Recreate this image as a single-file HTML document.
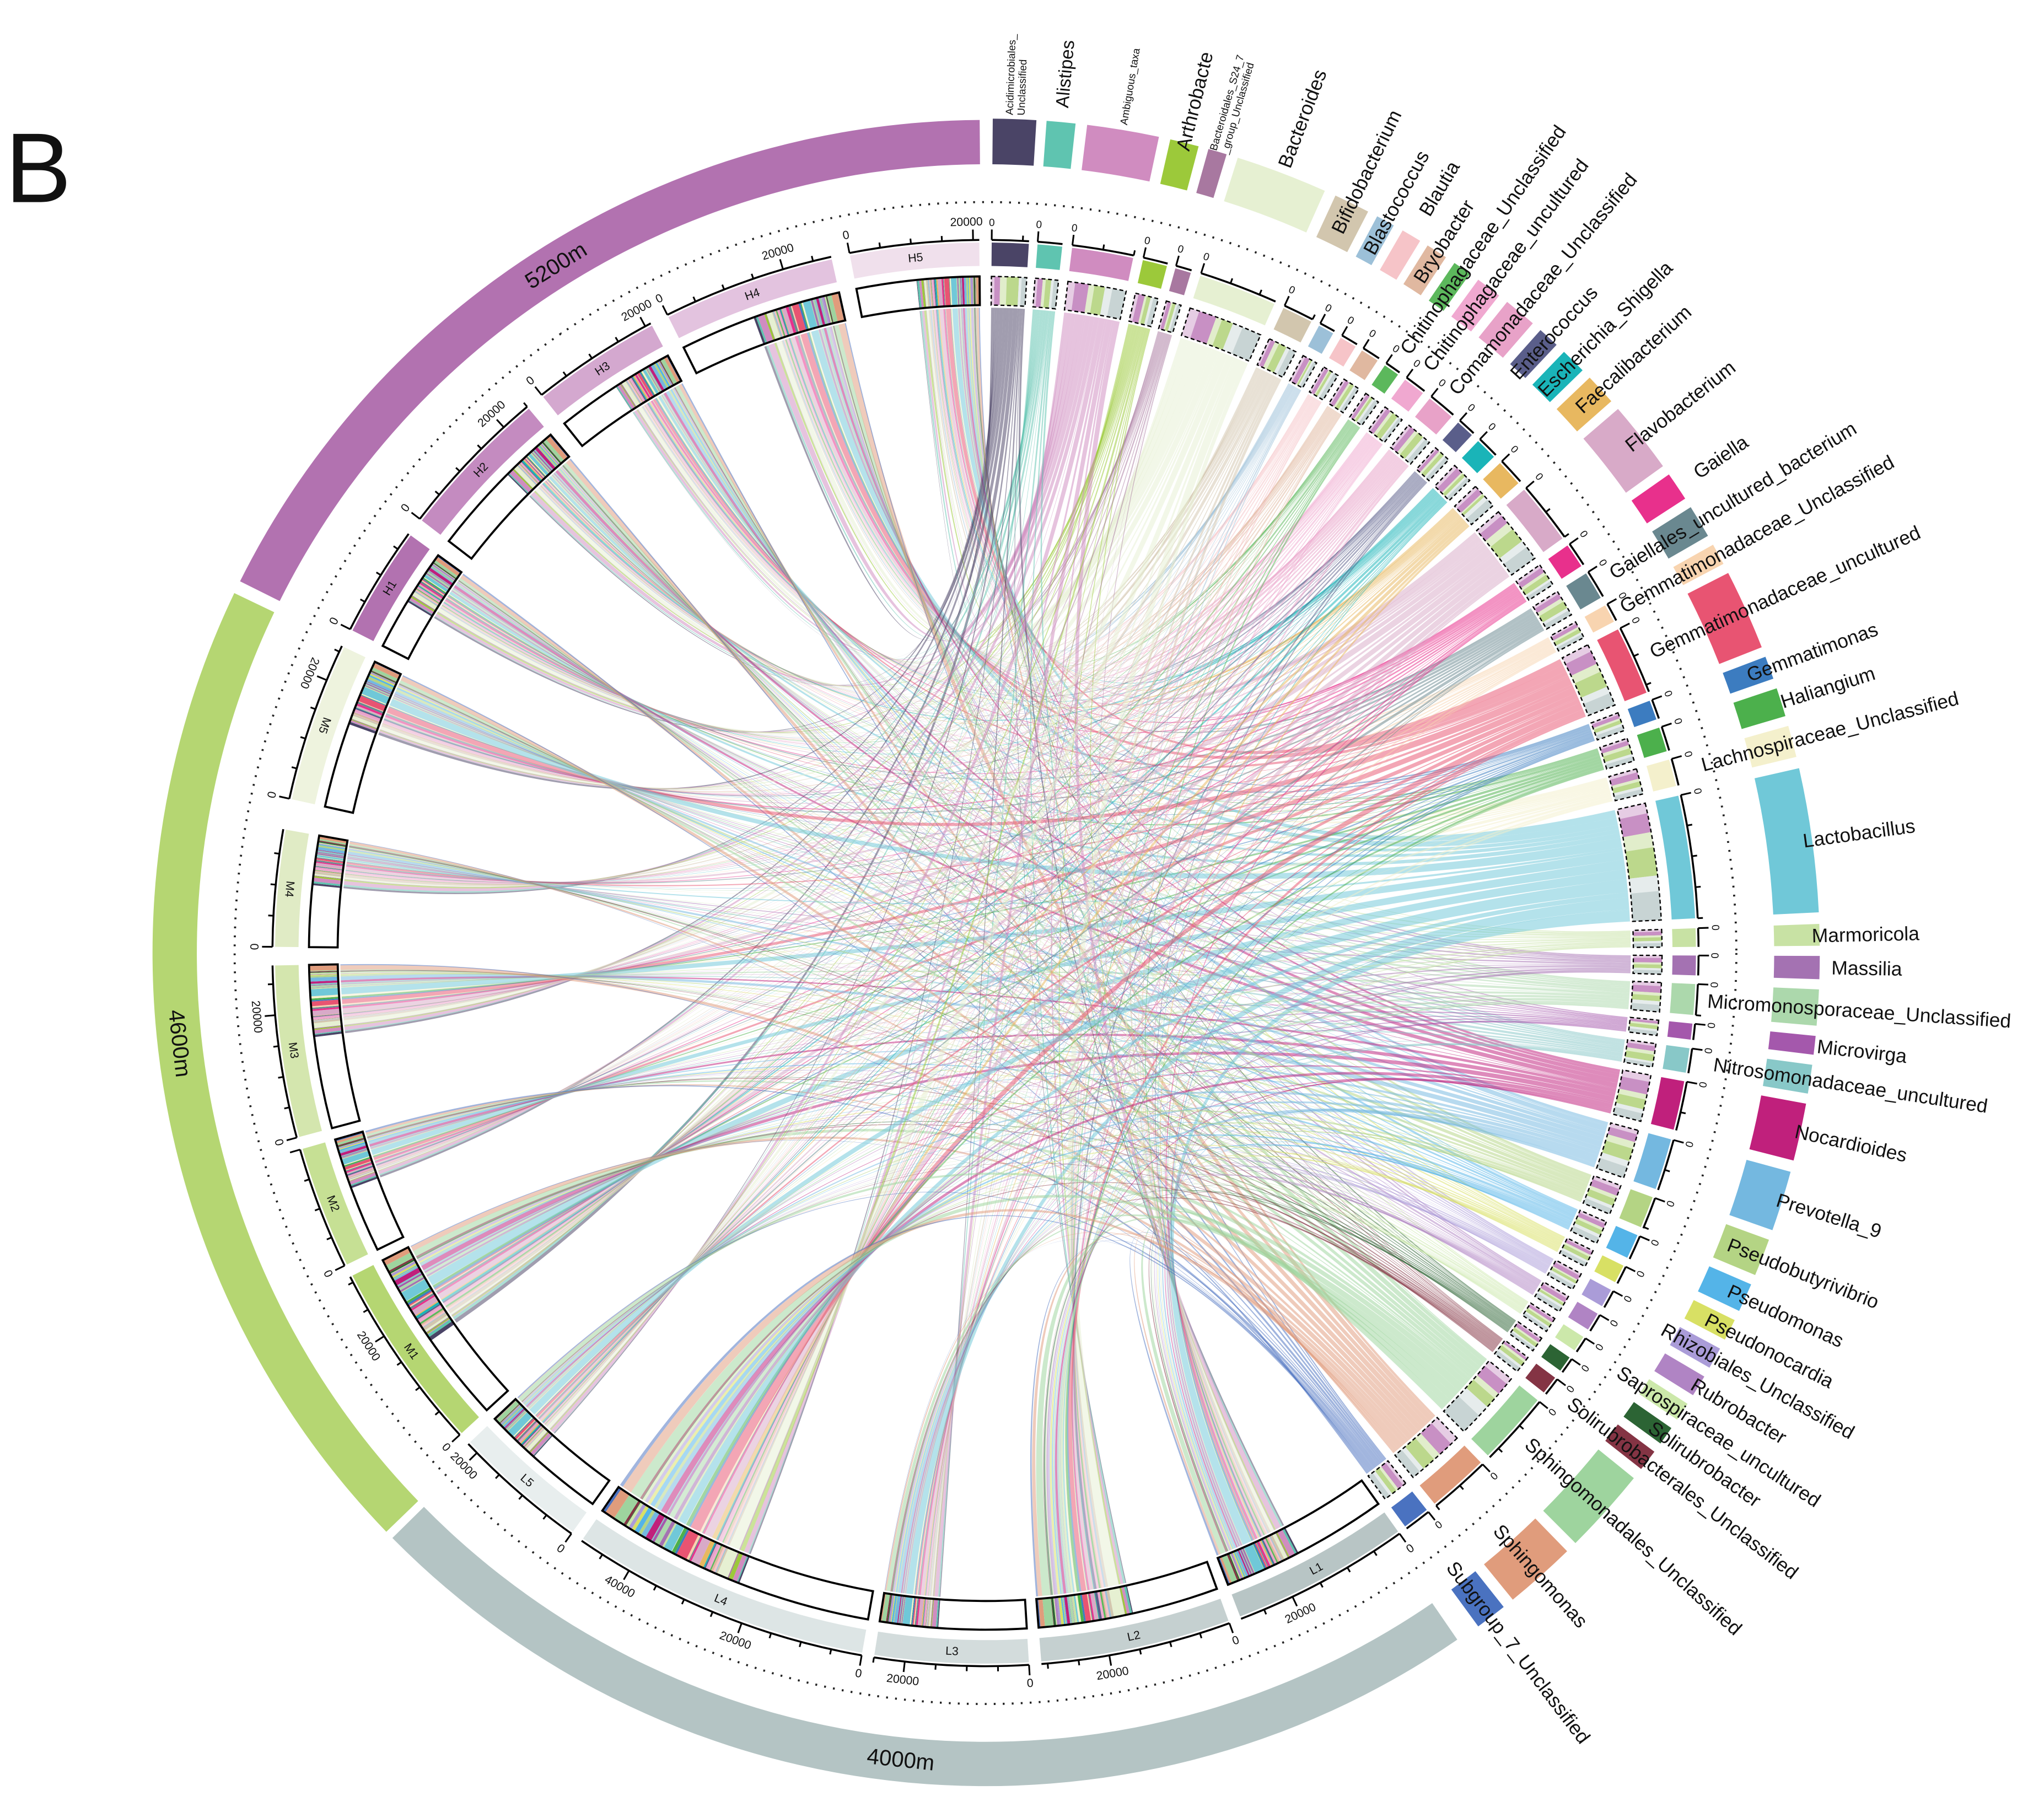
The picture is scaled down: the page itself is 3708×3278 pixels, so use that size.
<!DOCTYPE html>
<html><head><meta charset="utf-8"><style>
html,body{margin:0;padding:0;background:#fff}
svg{display:block}
text{font-family:"Liberation Sans",Arial,sans-serif;fill:#111}
.gl{font-size:15px;dominant-baseline:central}
.sm{font-size:8px;dominant-baseline:central}
.sl{font-size:9px;text-anchor:middle;dominant-baseline:central}
.tk{font-size:9px;text-anchor:middle;dominant-baseline:central}
.z{font-size:8px;text-anchor:middle;dominant-baseline:central}
.grp{font-size:17px;text-anchor:middle;dominant-baseline:central}
</style></head><body>
<svg xmlns="http://www.w3.org/2000/svg" width="3708" height="3278" viewBox="0 0 1568 1386" preserveAspectRatio="none">
<rect width="1568" height="1386" fill="#fff"/>
<g id="chords"></g>
<g id="geo"></g>
<text x="4" y="155" style="font-size:76px">B</text>
<g id="labels">
<text class="grp" transform="translate(756 731) rotate(328) translate(0 -622)">5200m</text>
<text class="grp" transform="translate(756 731) rotate(263.6) translate(0 -622) rotate(180)">4600m</text>
<text class="grp" transform="translate(756 731) rotate(186) translate(0 -622) rotate(180)">4000m</text>

<text class="sl" transform="translate(756 731) rotate(301.5) translate(0 -536)">H1</text>
<text class="sl" transform="translate(756 731) rotate(313.75) translate(0 -536)">H2</text>
<text class="sl" transform="translate(756 731) rotate(326.75) translate(0 -536)">H3</text>
<text class="sl" transform="translate(756 731) rotate(340.5) translate(0 -536)">H4</text>
<text class="sl" transform="translate(756 731) rotate(354.25) translate(0 -536)">H5</text>
<text class="sl" transform="translate(756 731) rotate(289) translate(0 -536) rotate(180)">M5</text>
<text class="sl" transform="translate(756 731) rotate(275.25) translate(0 -536) rotate(180)">M4</text>
<text class="sl" transform="translate(756 731) rotate(262) translate(0 -536) rotate(180)">M3</text>
<text class="sl" transform="translate(756 731) rotate(249) translate(0 -536) rotate(180)">M2</text>
<text class="sl" transform="translate(756 731) rotate(235.25) translate(0 -536) rotate(180)">M1</text>
<text class="sl" transform="translate(756 731) rotate(221) translate(0 -536) rotate(180)">L5</text>
<text class="sl" transform="translate(756 731) rotate(202.25) translate(0 -536) rotate(180)">L4</text>
<text class="sl" transform="translate(756 731) rotate(182.75) translate(0 -536) rotate(180)">L3</text>
<text class="sl" transform="translate(756 731) rotate(167.75) translate(0 -536) rotate(180)">L2</text>
<text class="sl" transform="translate(756 731) rotate(151.75) translate(0 -536) rotate(180)">L1</text>

<text class="tk" transform="translate(756 731) rotate(297) translate(0 -561)">0</text>
<text class="tk" transform="translate(756 731) rotate(307.5) translate(0 -561)">0</text>
<text class="tk" transform="translate(756 731) rotate(317.5) translate(0 -561)">20000</text>
<text class="tk" transform="translate(756 731) rotate(321.5) translate(0 -561)">0</text>
<text class="tk" transform="translate(756 731) rotate(331.5) translate(0 -561)">20000</text>
<text class="tk" transform="translate(756 731) rotate(333.5) translate(0 -561)">0</text>
<text class="tk" transform="translate(756 731) rotate(343.5) translate(0 -561)">20000</text>
<text class="tk" transform="translate(756 731) rotate(349) translate(0 -561)">0</text>
<text class="tk" transform="translate(756 731) rotate(358.5) translate(0 -561)">20000</text>
<text class="tk" transform="translate(756 731) rotate(282.5) translate(0 -561) rotate(180)">0</text>
<text class="tk" transform="translate(756 731) rotate(292.5) translate(0 -561) rotate(180)">20000</text>
<text class="tk" transform="translate(756 731) rotate(270.5) translate(0 -561) rotate(180)">0</text>
<text class="tk" transform="translate(756 731) rotate(255) translate(0 -561) rotate(180)">0</text>
<text class="tk" transform="translate(756 731) rotate(265) translate(0 -561) rotate(180)">20000</text>
<text class="tk" transform="translate(756 731) rotate(244) translate(0 -561) rotate(180)">0</text>
<text class="tk" transform="translate(756 731) rotate(227.5) translate(0 -561) rotate(180)">0</text>
<text class="tk" transform="translate(756 731) rotate(237.5) translate(0 -561) rotate(180)">20000</text>
<text class="tk" transform="translate(756 731) rotate(215.5) translate(0 -561) rotate(180)">0</text>
<text class="tk" transform="translate(756 731) rotate(225.5) translate(0 -561) rotate(180)">20000</text>
<text class="tk" transform="translate(756 731) rotate(190) translate(0 -561) rotate(180)">0</text>
<text class="tk" transform="translate(756 731) rotate(200) translate(0 -561) rotate(180)">20000</text>
<text class="tk" transform="translate(756 731) rotate(210) translate(0 -561) rotate(180)">40000</text>
<text class="tk" transform="translate(756 731) rotate(176.5) translate(0 -561) rotate(180)">0</text>
<text class="tk" transform="translate(756 731) rotate(186.5) translate(0 -561) rotate(180)">20000</text>
<text class="tk" transform="translate(756 731) rotate(160) translate(0 -561) rotate(180)">0</text>
<text class="tk" transform="translate(756 731) rotate(170) translate(0 -561) rotate(180)">20000</text>
<text class="tk" transform="translate(756 731) rotate(144.5) translate(0 -561) rotate(180)">0</text>
<text class="tk" transform="translate(756 731) rotate(154.5) translate(0 -561) rotate(180)">20000</text>

<text class="z" transform="translate(756 731) rotate(0.5) translate(0 -560)">0</text>
<text class="z" transform="translate(756 731) rotate(4.2) translate(0 -560)">0</text>
<text class="z" transform="translate(756 731) rotate(7) translate(0 -560)">0</text>
<text class="z" transform="translate(756 731) rotate(12.8) translate(0 -560)">0</text>
<text class="z" transform="translate(756 731) rotate(15.5) translate(0 -560)">0</text>
<text class="z" transform="translate(756 731) rotate(17.6) translate(0 -560)">0</text>
<text class="z" transform="translate(756 731) rotate(24.8) translate(0 -560)">0</text>
<text class="z" transform="translate(756 731) rotate(28) translate(0 -560)">0</text>
<text class="z" transform="translate(756 731) rotate(30) translate(0 -560)">0</text>
<text class="z" transform="translate(756 731) rotate(32) translate(0 -560)">0</text>
<text class="z" transform="translate(756 731) rotate(34.2) translate(0 -560)">0</text>
<text class="z" transform="translate(756 731) rotate(36.2) translate(0 -560)">0</text>
<text class="z" transform="translate(756 731) rotate(38.7) translate(0 -560)">0</text>
<text class="z" transform="translate(756 731) rotate(41.7) translate(0 -560)">0</text>
<text class="z" transform="translate(756 731) rotate(43.9) translate(0 -560)">0</text>
<text class="z" transform="translate(756 731) rotate(46.4) translate(0 -560)">0</text>
<text class="z" transform="translate(756 731) rotate(49.3) translate(0 -560)">0</text>
<text class="z" transform="translate(756 731) rotate(55) translate(0 -560)">0</text>
<text class="z" transform="translate(756 731) rotate(57.7) translate(0 -560)">0</text>
<text class="z" transform="translate(756 731) rotate(60.7) translate(0 -560)">0</text>
<text class="z" transform="translate(756 731) rotate(62.9) translate(0 -560)">0</text>
<text class="z" transform="translate(756 731) rotate(69.2) translate(0 -560)">0</text>
<text class="z" transform="translate(756 731) rotate(71.5) translate(0 -560)">0</text>
<text class="z" transform="translate(756 731) rotate(74.2) translate(0 -560)">0</text>
<text class="z" transform="translate(756 731) rotate(77.2) translate(0 -560)">0</text>
<text class="z" transform="translate(756 731) rotate(88) translate(0 -560)">0</text>
<text class="z" transform="translate(756 731) rotate(90.2) translate(0 -560) rotate(180)">0</text>
<text class="z" transform="translate(756 731) rotate(92.5) translate(0 -560) rotate(180)">0</text>
<text class="z" transform="translate(756 731) rotate(95.7) translate(0 -560) rotate(180)">0</text>
<text class="z" transform="translate(756 731) rotate(97.7) translate(0 -560) rotate(180)">0</text>
<text class="z" transform="translate(756 731) rotate(100.4) translate(0 -560) rotate(180)">0</text>
<text class="z" transform="translate(756 731) rotate(105.2) translate(0 -560) rotate(180)">0</text>
<text class="z" transform="translate(756 731) rotate(110.1) translate(0 -560) rotate(180)">0</text>
<text class="z" transform="translate(756 731) rotate(113.4) translate(0 -560) rotate(180)">0</text>
<text class="z" transform="translate(756 731) rotate(116.1) translate(0 -560) rotate(180)">0</text>
<text class="z" transform="translate(756 731) rotate(118.3) translate(0 -560) rotate(180)">0</text>
<text class="z" transform="translate(756 731) rotate(120.5) translate(0 -560) rotate(180)">0</text>
<text class="z" transform="translate(756 731) rotate(122.7) translate(0 -560) rotate(180)">0</text>
<text class="z" transform="translate(756 731) rotate(124.7) translate(0 -560) rotate(180)">0</text>
<text class="z" transform="translate(756 731) rotate(126.7) translate(0 -560) rotate(180)">0</text>
<text class="z" transform="translate(756 731) rotate(129) translate(0 -560) rotate(180)">0</text>
<text class="z" transform="translate(756 731) rotate(135.8) translate(0 -560) rotate(180)">0</text>
<text class="z" transform="translate(756 731) rotate(141.6) translate(0 -560) rotate(180)">0</text>

<text class="sm" transform="translate(756 731) rotate(-88) translate(643 0)"><tspan x="0" y="-4">Acidimicrobiales_</tspan><tspan x="0" y="5">Unclassified</tspan></text>
<text class="gl" style="font-size:14px" transform="translate(756 731) rotate(-84.8) translate(651 0)">Alistipes</text>
<text class="sm" transform="translate(756 731) rotate(-80.5) translate(644 0)">Ambiguous_taxa</text>
<text class="gl" transform="translate(756 731) rotate(-76.2) translate(634 0)">Arthrobacte</text>
<text class="sm" transform="translate(756 731) rotate(-73.8) translate(640 0)"><tspan x="0" y="-4">Bacteroidales_S24_7</tspan><tspan x="0" y="5">_group_Unclassified</tspan></text>
<text class="gl" transform="translate(756 731) rotate(-69.2) translate(645 0)">Bacteroides</text>
<text class="gl" transform="translate(756 731) rotate(-64) translate(615 0)">Bifidobacterium</text>
<text class="gl" transform="translate(756 731) rotate(-61.3) translate(612 0)">Blastococcus</text>
<text class="gl" transform="translate(756 731) rotate(-59.3) translate(659 0)">Blautia</text>
<text class="gl" transform="translate(756 731) rotate(-57.2) translate(613 0)">Bryobacter</text>
<text class="gl" transform="translate(756 731) rotate(-55.1) translate(562 0)">Chitinophagaceae_Unclassified</text>
<text class="gl" transform="translate(756 731) rotate(-52.9) translate(562 0)">Chitinophagaceae_uncultured</text>
<text class="gl" transform="translate(756 731) rotate(-50.2) translate(560 0)">Comamonadaceae_Unclassified</text>
<text class="gl" transform="translate(756 731) rotate(-47.5) translate(600 0)">Enterococcus</text>
<text class="gl" transform="translate(756 731) rotate(-45.2) translate(605 0)">Escherichia_Shigella</text>
<text class="gl" transform="translate(756 731) rotate(-42.5) translate(617 0)">Faecalibacterium</text>
<text class="gl" transform="translate(756 731) rotate(-38.2) translate(627 0)">Flavobacterium</text>
<text class="gl" transform="translate(756 731) rotate(-34) translate(657 0)">Gaiella</text>
<text class="gl" transform="translate(756 731) rotate(-31.2) translate(561 0)">Gaiellales_uncultured_bacterium</text>
<text class="gl" transform="translate(756 731) rotate(-28.5) translate(555 0)">Gemmatimonadaceae_Unclassified</text>
<text class="gl" transform="translate(756 731) rotate(-24.3) translate(560 0)">Gemmatimonadaceae_uncultured</text>
<text class="gl" transform="translate(756 731) rotate(-20) translate(622 0)">Gemmatimonas</text>
<text class="gl" transform="translate(756 731) rotate(-17.5) translate(640 0)">Haliangium</text>
<text class="gl" transform="translate(756 731) rotate(-14.7) translate(568 0)">Lachnospiraceae_Unclassified</text>
<text class="gl" transform="translate(756 731) rotate(-7.8) translate(633 0)">Lactobacillus</text>
<text class="gl" transform="translate(756 731) rotate(-1.2) translate(634 0)">Marmoricola</text>
<text class="gl" transform="translate(756 731) rotate(1) translate(649 0)">Massilia</text>
<text class="gl" transform="translate(756 731) rotate(3.8) translate(555 0)">Micromonosporaceae_Unclassified</text>
<text class="gl" transform="translate(756 731) rotate(6.4) translate(642 0)">Microvirga</text>
<text class="gl" transform="translate(756 731) rotate(8.7) translate(565 0)">Nitrosomonadaceae_uncultured</text>
<text class="gl" transform="translate(756 731) rotate(12.4) translate(636 0)">Nocardioides</text>
<text class="gl" transform="translate(756 731) rotate(17.3) translate(636 0)">Prevotella_9</text>
<text class="gl" transform="translate(756 731) rotate(21.4) translate(612 0)">Pseudobutyrivibrio</text>
<text class="gl" transform="translate(756 731) rotate(24.4) translate(626 0)">Pseudomonas</text>
<text class="gl" transform="translate(756 731) rotate(26.9) translate(620 0)">Pseudonocardia</text>
<text class="gl" transform="translate(756 731) rotate(29) translate(594 0)">Rhizobiales_Unclassified</text>
<text class="gl" transform="translate(756 731) rotate(31.3) translate(635 0)">Rubrobacter</text>
<text class="gl" transform="translate(756 731) rotate(33.4) translate(582 0)">Saprospiraceae_uncultured</text>
<text class="gl" transform="translate(756 731) rotate(35.4) translate(626 0)">Solirubrobacter</text>
<text class="gl" transform="translate(756 731) rotate(37.5) translate(565 0)">Solirubrobacterales_Unclassified</text>
<text class="gl" transform="translate(756 731) rotate(42) translate(560 0)">Sphingomonadales_Unclassified</text>
<text class="gl" transform="translate(756 731) rotate(48.3) translate(590 0)">Sphingomonas</text>
<text class="gl" transform="translate(756 731) rotate(52.7) translate(589 0)">Subgroup_7_Unclassified</text>
</g>
</svg>
<script>
(function(){
var NS='http://www.w3.org/2000/svg';
var geo=document.getElementById('geo'), ch=document.getElementById('chords');
var CX=756,CY=731;
function P(a,r){var t=a*Math.PI/180;return [CX+r*Math.sin(t),CY-r*Math.cos(t)];}
function f(p){return p[0].toFixed(2)+' '+p[1].toFixed(2);}
function band(a1,a2,r1,r2){var L=(a2-a1)>180?1:0;
 return 'M'+f(P(a1,r2))+'A'+r2+' '+r2+' 0 '+L+' 1 '+f(P(a2,r2))+'L'+f(P(a2,r1))+'A'+r1+' '+r1+' 0 '+L+' 0 '+f(P(a1,r1))+'Z';}
function arc(a1,a2,r){var L=(a2-a1)>180?1:0;return 'M'+f(P(a1,r))+'A'+r+' '+r+' 0 '+L+' 1 '+f(P(a2,r));}
function add(tag,at,par){var e=document.createElementNS(NS,tag);for(var k in at)e.setAttribute(k,at[k]);(par||geo).appendChild(e);return e;}
var seed=12345;function rnd(){seed=(seed*1103515245+12345)%2147483648;return seed/2147483648;}

var G=[[0.5,3.5,'#4a4466'],[4.2,6.2,'#5fc4b0'],[7,12,'#d08cc0'],[12.8,14.8,'#9cc93a'],[15.5,16.8,'#a878a0'],[17.6,24,'#e6f0d2'],[24.8,27.3,'#d2c6ae'],[28,29.3,'#9cc0d8'],[30,31.4,'#f6c4c8'],[32,33.5,'#e0b8a0'],[34.2,35.5,'#5cb85c'],[36.2,38,'#f0a8d0'],[38.7,41,'#e8a2c8'],[41.7,43.2,'#5a5e8a'],[43.9,45.7,'#1ab4b8'],[46.4,48.6,'#e8b860'],[49.3,54.3,'#d8aac8'],[55,57,'#e8308c'],[57.7,60,'#6a8890'],[60.7,62.2,'#f8d4b0'],[62.9,68.5,'#e85472'],[69.2,70.8,'#3c7cc0'],[71.5,73.5,'#4cb04c'],[74.2,76.4,'#f4f0cc'],[77.2,87.2,'#70c8d8'],[88,89.5,'#c8e2a4'],[90.2,91.8,'#a472b2'],[92.5,95,'#acd8ac'],[95.7,97,'#a458ac'],[97.7,99.7,'#88c8c8'],[100.4,104.4,'#c0207c'],[105.2,109.4,'#74b8e0'],[110.1,112.7,'#b4d484'],[113.4,115.4,'#54b4e8'],[116.1,117.6,'#d8e064'],[118.3,119.8,'#aa9cd8'],[120.5,122,'#b084c4'],[122.7,124,'#cce8aa'],[124.7,126,'#2c6434'],[126.7,128.2,'#843444'],[129,135,'#9ed49e'],[135.8,140.8,'#e09c7c'],[141.6,143.8,'#4a72c0']];
var S=[['H1',297,306,'#b272b0',0],['H2',307.5,320,'#c48bc0',0],['H3',321.5,332,'#d4a8cf',0],['H4',333.5,347.5,'#e3c3df',0],['H5',349,359.5,'#f0e0ec',0],
['M1',227.5,243,'#b5d672',1],['M2',244,254,'#c6e094',1],['M3',255,269,'#d4e6ae',1],['M4',270.5,280,'#e0ebc5',1],['M5',282.5,295.5,'#eef3de',1],
['L1',144.5,159,'#b8c5c5',2],['L2',160,175.5,'#c5d0d0',2],['L3',176.5,189,'#d3dcdc',2],['L4',190,214.5,'#dde5e5',2],['L5',215.5,226.5,'#e8eeee',2]];
add('path',{d:band(296.5,359.6,605,639),fill:'#b272b0'});
add('path',{d:band(226,295.6,605,639),fill:'#b5d672'});
add('path',{d:band(145.5,225.4,605,639),fill:'#b4c4c4'});
add('circle',{cx:CX,cy:CY,r:576,fill:'none',stroke:'#222','stroke-width':1.6,'stroke-dasharray':'1.4 5.5'});
var W=[];
for(var i=0;i<S.length;i++){W.push([]);for(var j=0;j<G.length;j++){W[i].push((G[j][1]-G[j][0])*(0.15+1.7*rnd()));}}
var RC=495;
var sEnds=[];
for(var i=0;i<S.length;i++){
 var s=S[i],span=s[2]-s[1],fr=0.38+0.17*rnd(),st=s[2]-fr*span,tot=0;
 for(var j=0;j<G.length;j++)tot+=W[i][j];
 var a=st;sEnds.push([]);
 for(var j=0;j<G.length;j++){var w=W[i][j]/tot*(s[2]-st);sEnds[i].push([a,a+w]);a+=w;}
}
var order=[4,3,2,1,0,9,8,7,6,5,14,13,12,11,10];
var gEnds=[],gSec=[];
for(var j=0;j<G.length;j++){
 var tot=0;for(var k=0;k<S.length;k++)tot+=W[k][j];
 var a=G[j][0],span=G[j][1]-G[j][0];gEnds.push([]);var grpSum=[0,0,0];
 var tmp={};
 for(var q=0;q<order.length;q++){var i=order[q];var w=W[i][j]/tot*span;tmp[i]=[a,a+w];grpSum[S[i][4]]+=w;a+=w;}
 for(var i=0;i<S.length;i++)gEnds[j].push(tmp[i]);
 gSec.push(grpSum);
}
for(var i=0;i<S.length;i++){for(var j=0;j<G.length;j++){
 var sa=sEnds[i][j],ga=gEnds[j][i];
 var d='M'+f(P(sa[0],RC))+'A'+RC+' '+RC+' 0 0 1 '+f(P(sa[1],RC))+'Q'+CX+' '+CY+' '+f(P(ga[0],RC))+'A'+RC+' '+RC+' 0 0 1 '+f(P(ga[1],RC))+'Q'+CX+' '+CY+' '+f(P(sa[0],RC))+'Z';
 add('path',{d:d,fill:G[j][2],'fill-opacity':0.52},ch);
}}
for(var i=0;i<S.length;i++){
 var s=S[i];
 add('path',{d:band(s[1],s[2],527,545),fill:s[3]});
 add('path',{d:band(s[1],s[2],497,519),fill:'#fff'});
 for(var j=0;j<G.length;j++){var sa=sEnds[i][j];add('path',{d:band(sa[0],sa[1],497,519),fill:G[j][2]});}
 add('path',{d:band(s[1],s[2],497,519),fill:'none',stroke:'#000','stroke-width':1.6});
 add('path',{d:arc(s[1],s[2],547),fill:'none',stroke:'#000','stroke-width':1.5});
 for(var t=0;s[1]+t<=s[2]+0.01;t+=2.5){var a=s[1]+t;var L=(Math.abs(t%10)<0.01)?8:4;
  add('path',{d:'M'+f(P(a,547))+'L'+f(P(a,547+L)),stroke:'#000','stroke-width':1.3});}
}
var secCol=['#c890c4','#bcd88c','#c8d4d4'];
for(var j=0;j<G.length;j++){
 var g=G[j];
 add('path',{d:band(g[0],g[1],527,545),fill:g[2]});
 add('path',{d:band(g[0],g[1],605,640),fill:g[2]});
 var a=g[0];
 for(var k=0;k<3;k++){var w=gSec[j][k];if(w>0){add('path',{d:band(a,a+w,497,519),fill:secCol[k]});
   add('path',{d:band(a,a+w*0.35,497,519),fill:'#fff','fill-opacity':0.55});}a+=w;}
 add('path',{d:band(g[0],g[1],497,519),fill:'none',stroke:'#000','stroke-width':1,'stroke-dasharray':'3 2'});
 add('path',{d:arc(g[0],g[1],547),fill:'none',stroke:'#000','stroke-width':1.5});
 for(var t=0;g[0]+t<=g[1]+0.01;t+=2.5){var aa=g[0]+t;var L=(t===0)?8:4;
  add('path',{d:'M'+f(P(aa,547))+'L'+f(P(aa,547+L)),stroke:'#000','stroke-width':1.3});}
}
})();
</script>
</body></html>
